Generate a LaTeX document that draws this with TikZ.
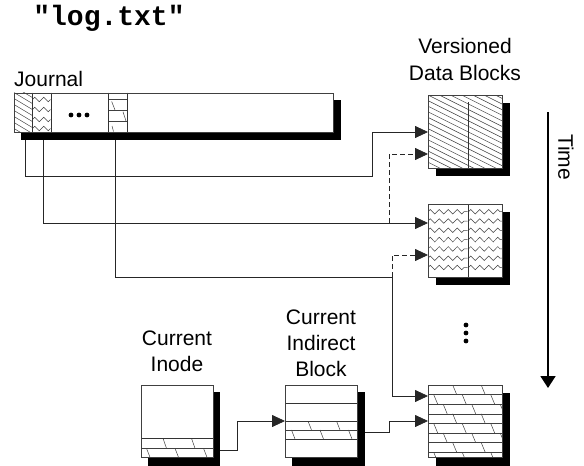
\documentclass[tikz,border=0pt]{standalone}
\usepackage{fontspec}
\setmainfont{Liberation Sans}
\newfontfamily\titlefont{Liberation Mono}
\usetikzlibrary{arrows.meta,calc,decorations.pathmorphing}
\begin{document}
\begin{tikzpicture}[x=1pt,y=-1pt,
  lbl/.style={font=\fontsize{21}{25}\selectfont, inner sep=0pt, anchor=base},
  boxo/.style={draw=black!75, line width=0.8pt, rectangle, inner sep=0pt, anchor=north west},
  conn/.style={draw=black!85, line width=0.8pt},
  arr/.style={conn, -{Triangle[length=13pt,width=12pt]}},
  dsh/.style={arr, dash pattern=on 5pt off 3pt},
  pat/.style={line width=0.5pt, draw=black!75},
  zz/.style={pat, decorate, decoration={zigzag, segment length=9pt, amplitude=2.3pt}},
  divl/.style={line width=0.8pt, draw=black!80},
  dotc/.style={fill=black},
]
\useasboundingbox (0,0) rectangle (584,466);

% ---------- connector coordinates ----------
\coordinate (ja) at (25,132);
\coordinate (jb) at (43,132);
\coordinate (jc) at (115,132);
\coordinate (k1) at (372,176);
\coordinate (k2) at (392,277);
\coordinate (b1a) at (428,132);
\coordinate (b1b) at (428,154);
\coordinate (b2a) at (428,223);
\coordinate (b2b) at (428,255);
\coordinate (b3a) at (428,396);
\coordinate (b3b) at (428,421);
\coordinate (d1) at (389,223);
\coordinate (d2) at (392,277);
\coordinate (i1) at (213,450);
\coordinate (k3) at (237,421);
\coordinate (ia) at (285,421);
\coordinate (x1) at (357,432);
\coordinate (k4) at (389,421);
\coordinate (t1) at (548,112);
\coordinate (t2) at (548,388);

% ---------- connectors ----------
\draw[arr] (ja) |- (k1) |- (b1a);
\draw[arr] (jb) |- (b2a);
\draw[dsh] (d1) |- (b1b);
\draw[arr] (jc) |- (k2) |- (b3a);
\draw[dsh] (d2) |- (b2b);
\draw[arr] (i1) -| (k3) -- (ia);
\draw[arr] (x1) -| (k4) -- (b3b);
\draw[line width=1.8pt, -{Triangle[length=12pt,width=15pt]}] (t1) -- (t2);

% ---------- title & labels ----------
\node[font=\titlefont\bfseries\fontsize{28}{30}\selectfont, inner sep=0pt, anchor=base] (title) at (109,25) {"log.txt"};
\node[lbl, anchor=base west] (jlabel) at (14,86) {Journal};
\node[lbl] (vlab1) at (465,53) {Versioned};
\node[lbl] (vlab2) at (465,80) {Data Blocks};
\node[lbl] (ilab1) at (177,345) {Current};
\node[lbl] (ilab2) at (177,371.5) {Inode};
\node[lbl] (xlab1) at (321,324) {Current};
\node[lbl] (xlab2) at (321,350) {Indirect};
\node[lbl] (xlab3) at (321,376) {Block};
\node[lbl, rotate=-90, anchor=center] (time) at (566,157) {Time};

% ---------- Journal ----------
\fill (21,100) rectangle (341,140);
\fill[white] (14,92.5) rectangle (333,131.5);
\begin{scope}
  \clip (14,92.5) rectangle (32,131.5);
  \foreach \k in {-10,...,8} \draw[pat] (14,92.5+6*\k) -- ++(30,18);
\end{scope}
\foreach \yy in {99.5,109.5,119.5,128.5}
  \draw[zz] (32.5,\yy) -- (50.5,\yy);
\draw[pat] (108,99.3) -- (127,99.3) (108,110) -- (127,110) (108,121) -- (127,121);
\draw[pat] (111.7,101.5) -- (115,110) (123,111.7) -- (126,121) (112,126) -- (113.5,131.5);
\draw[divl] (32,92.5) -- (32,131.5) (51,92.5) -- (51,131.5) (108,92.5) -- (108,131.5) (127,92.5) -- (127,131.5);
\fill[dotc] (71,115) circle (2.4) (79,115) circle (2.4) (87,115) circle (2.4);
\node[boxo, minimum width=319pt, minimum height=39pt] (journal) at (14,92.5) {};

% ---------- Block 1 (hatched) ----------
\fill (436,103) rectangle (510,176);
\fill[white] (428,95) rectangle (502,168);
\begin{scope}
  \clip (428,95) rectangle (502,168);
  \foreach \k in {-16,...,13} \draw[pat] (428,95+5.6*\k) -- ++(80,40);
\end{scope}
\draw[divl] (468,102) -- (468,168);
\node[boxo, minimum width=74pt, minimum height=73pt] (b1) at (428,95) {};

% ---------- Block 2 (zigzag) ----------
\fill (436,212) rectangle (510,285);
\fill[white] (428,204) rectangle (502,277);
\begin{scope}
  \clip (428,204) rectangle (502,277);
  \foreach \r in {0,...,6} {
    \draw[zz] (428,211.7+9.3*\r) -- (467.5,211.7+9.3*\r);
    \draw[zz] (468.5,211.7+9.3*\r) -- (502,211.7+9.3*\r);
  }
\end{scope}
\draw[divl] (468,205) -- (468,277);
\node[boxo, minimum width=74pt, minimum height=73pt] (b2) at (428,204) {};

% ---------- vertical dots ----------
\fill[dotc] (466,325) circle (2.4) (466,333) circle (2.4) (466,341) circle (2.4);

% ---------- Block 3 (bricks) ----------
\fill (436,393) rectangle (510,466);
\fill[white] (428,385) rectangle (502,457);
\begin{scope}
  \clip (428,385) rectangle (502,457);
  \foreach \r in {0,...,7} {
    \draw[pat] (428,385+9.6*\r) -- ++(74,0);
    \foreach \m in {-5,...,2}
      \draw[pat] ({452.7+9.5*\r+28.5*\m},{385+9.6*\r}) -- ++(4,9.6);
  }
\end{scope}
\node[boxo, minimum width=74pt, minimum height=72pt] (b3) at (428,385) {};

% ---------- Current Inode ----------
\fill (148,392) rectangle (220,466);
\fill[white] (141,385) rectangle (213,457);
\begin{scope}
  \clip (141,438.3) rectangle (213,457);
  \draw[pat] (141,448.3) -- (213,448.3);
  \foreach \m in {-1,...,2} {
    \draw[pat] ({163+28.5*\m},438.3) -- ++(3.5,10);
    \draw[pat] ({175+28.5*\m},448.3) -- ++(3.5,9);
  }
\end{scope}
\draw[divl] (141,438.3) -- (213,438.3);
\node[boxo, minimum width=72pt, minimum height=72pt] (inode) at (141,385) {};

% ---------- Current Indirect Block ----------
\fill (292,392) rectangle (365,466);
\fill[white] (285,385) rectangle (357,457);
\begin{scope}
  \clip (285,421) rectangle (357,439);
  \draw[pat] (285,430) -- (357,430);
  \foreach \m in {-1,...,2} {
    \draw[pat] ({308+28.5*\m},421) -- ++(3.5,9);
    \draw[pat] ({320+28.5*\m},430) -- ++(3.5,9);
  }
\end{scope}
\draw[divl] (285,403) -- (357,403) (285,421) -- (357,421) (285,439) -- (357,439);
\node[boxo, minimum width=72pt, minimum height=72pt] (indirect) at (285,385) {};
\end{tikzpicture}
\end{document}
